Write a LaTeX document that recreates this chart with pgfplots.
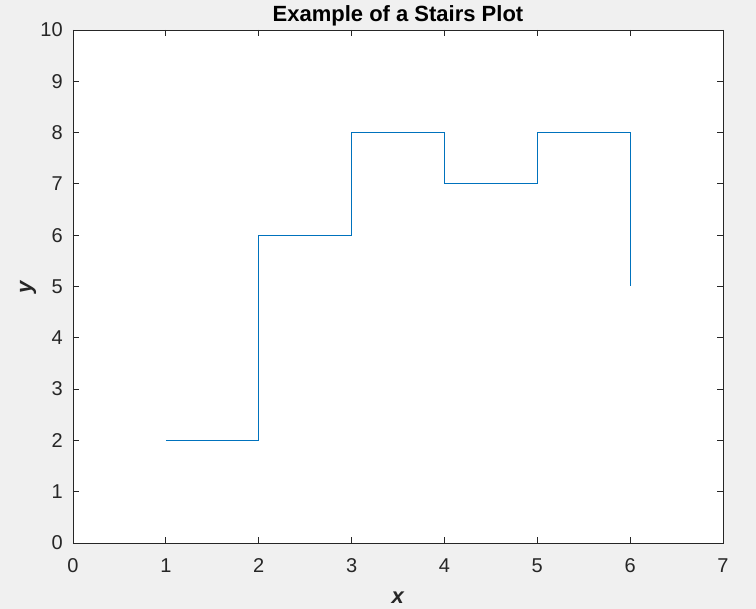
\documentclass[border=0pt]{standalone}
\usepackage{pgfplots}
\pgfplotsset{compat=1.18}
\usepackage{fontspec}
\setmainfont{Liberation Sans}
\definecolor{mblue}{HTML}{0072BD}
\definecolor{axc}{HTML}{262626}
\definecolor{figbg}{HTML}{F0F0F0}
\begin{document}
\begin{tikzpicture}[x=0.5pt,y=0.5pt]
\fill[figbg] (0,0) rectangle (756,609);
\useasboundingbox (0,0) rectangle (756,609);
\begin{axis}[
  at={(36.5pt,33pt)}, anchor=south west,
  scale only axis, width=325pt, height=256.5pt,
  xmin=0, xmax=7, ymin=0, ymax=10,
  xtick={0,...,7}, ytick={0,...,10},
  tick align=inside, major tick length=3pt,
  axis line style={axc, line width=0.45pt},
  every tick/.style={axc, line width=0.45pt},
  axis background/.style={fill=white},
  tick label style={font=\fontsize{10}{11}\selectfont, text=axc},
  /pgf/number format/assume math mode=true,
  xticklabel style={anchor=center, yshift=-11.5pt},
  yticklabel style={anchor=east, xshift=-1.6pt},
  title={\textbf{Example of a Stairs Plot}},
  title style={font=\fontsize{11}{12}\selectfont, at={(0.5,1)}, anchor=center, yshift=1pt, text=black},
  xlabel={\textbf{\textit{x}}}, ylabel={\textbf{\textit{y}}},
  label style={font=\fontsize{11}{12}\selectfont, text=axc},
  xlabel style={at={(0.5,0)}, anchor=center, yshift=-27.5pt},
  ylabel style={at={(0,0.5)}, anchor=center, rotate=0, yshift=22.5pt},
]
\addplot[const plot, mblue, line width=0.5pt] coordinates {(1,2) (2,6) (3,8) (4,7) (5,8) (6,5)};
\end{axis}
\end{tikzpicture}
\end{document}
